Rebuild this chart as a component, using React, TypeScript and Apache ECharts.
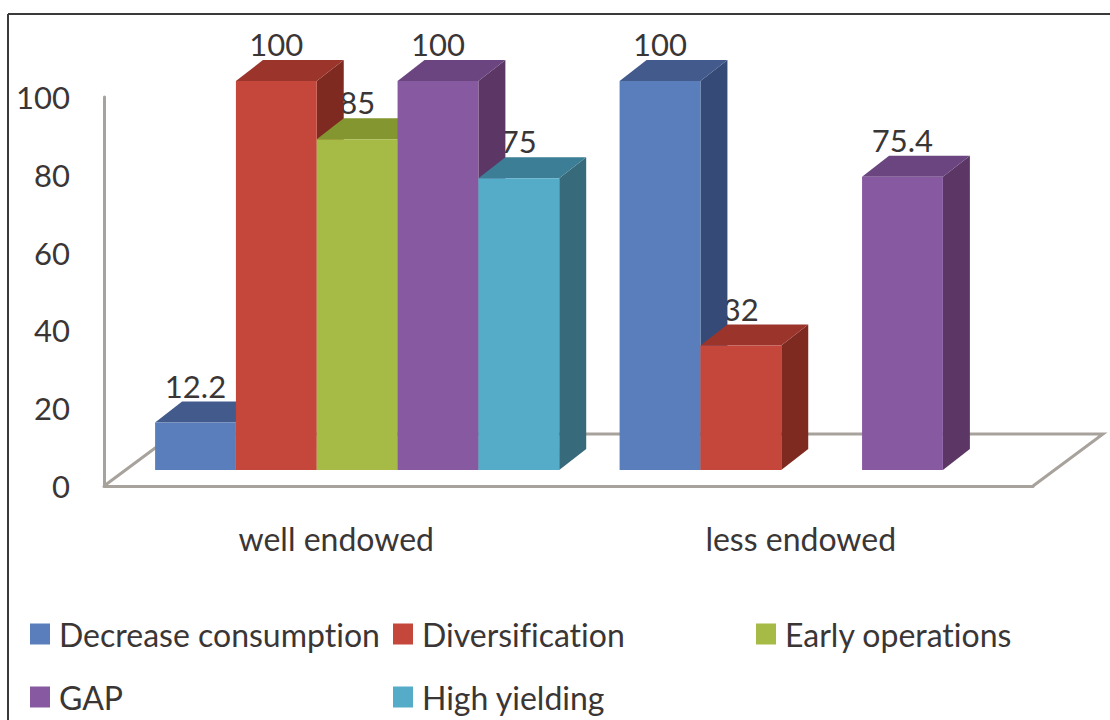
import React, { useEffect, useRef } from "react";
import * as echarts from "echarts";

const categories = ["well endowed", "less endowed"];
const seriesNames = ["Decrease consumption", "Diversification", "Early operations", "GAP", "High yielding"];
const decreaseConsumption = [12.2, 100];
const diversification = [100, 32];
const earlyOperations = [85, null];
const gap = [100, 75.4];
const highYielding = [75, null];
const allValues = [decreaseConsumption, diversification, earlyOperations, gap, highYielding];
const yTicks = [0, 20, 40, 60, 80, 100];

const frontColors = ["#5a7ebc", "#c5473c", "#a6bb45", "#8759a0", "#55acc8"];
const topColors = ["#425a8c", "#9b352b", "#83962f", "#6a4580", "#3b7e96"];
const sideColors = ["#364a78", "#7f2a21", "#6c7c26", "#5c3765", "#376a7a"];

const FONT = "Lato";
const TEXT = "#3b3636";
const LINE = "#a8a29c";
const DX = 27;
const DY = 21;
const LIFT = 16;
const SLOT = 0.174;
const START = 0.39;

function barGeometry(api: any, slot: number) {
  const cat = api.value(0);
  const val = api.value(1);
  const band = api.size([1, 0])[0];
  const cx = api.coord([cat, 0])[0];
  const w = band * SLOT;
  const x = cx - band * START + slot * w;
  const y0 = api.coord([cat, 0])[1] - LIFT;
  const y1 = api.coord([cat, val])[1] - LIFT;
  return { x, w, y0, y1 };
}

function App() {
  const ref = useRef<HTMLDivElement>(null);
  useEffect(() => {
    const chart = echarts.init(ref.current!, undefined, { renderer: "svg" });
    const barSeries = seriesNames.map((name, s) => ({
      type: "custom",
      name,
      z: 5 + s,
      itemStyle: { color: frontColors[s] },
      data: allValues[s].map((v, i) => [i, v]).filter((d) => d[1] !== null),
      renderItem: (_p: any, api: any) => {
        const { x, w, y0, y1 } = barGeometry(api, s);
        return {
          type: "group",
          children: [
            {
              type: "polygon",
              shape: { points: [[x + w, y1], [x + w + DX, y1 - DY], [x + w + DX, y0 - DY], [x + w, y0]] },
              style: { fill: sideColors[s] },
            },
            {
              type: "polygon",
              shape: { points: [[x, y1], [x + DX, y1 - DY], [x + w + DX, y1 - DY], [x + w, y1]] },
              style: { fill: topColors[s] },
            },
            { type: "rect", shape: { x, y: y1, width: w, height: y0 - y1 }, style: { fill: frontColors[s] } },
          ],
        };
      },
    }));
    const labelData: any[] = [];
    allValues.forEach((vals, s) =>
      vals.forEach((v, i) => {
        if (v !== null) labelData.push([i, v, s]);
      })
    );
    const labelSeries = {
      type: "custom",
      name: "labels",
      z: 3,
      data: labelData,
      renderItem: (_p: any, api: any) => {
        const { x, w, y1 } = barGeometry(api, api.value(2));
        return {
          type: "text",
          style: {
            x: x + w / 2,
            y: y1 - 37,
            text: String(api.value(1)),
            fill: TEXT,
            font: `31px ${FONT}`,
            align: "center",
            verticalAlign: "middle",
          },
        };
      },
    };
    const legendPos = [
      [30, 618],
      [393, 618],
      [756, 618],
      [30, 681],
      [393, 681],
    ];
    chart.setOption({
      animation: false,
      backgroundColor: "#ffffff",
      grid: { left: 104, right: 77, top: 97, height: 389, containLabel: false },
      xAxis: {
        type: "category",
        data: categories,
        axisLine: { show: true, lineStyle: { color: LINE, width: 3 } },
        axisTick: { show: false },
        axisLabel: { color: TEXT, fontFamily: FONT, fontSize: 32, margin: 36 },
      },
      yAxis: {
        type: "value",
        min: yTicks[0],
        max: yTicks[yTicks.length - 1],
        interval: 20,
        axisLine: { show: true, lineStyle: { color: LINE, width: 3 } },
        axisTick: { show: false },
        splitLine: { show: false },
        axisLabel: { color: TEXT, fontFamily: FONT, fontSize: 31, margin: 34 },
      },
      legend: seriesNames.map((name, i) => ({
        data: [name],
        left: legendPos[i][0],
        top: legendPos[i][1],
        icon: "rect",
        itemWidth: 20,
        itemHeight: 21,
        itemGap: 0,
        padding: 0,
        selectedMode: false,
        textStyle: { color: TEXT, fontFamily: FONT, fontSize: 32, padding: [0, 0, 0, 4] },
      })),
      graphic: [
        { type: "line", shape: { x1: 8, y1: 14, x2: 1110, y2: 14 }, style: { stroke: "#3a3a3a", lineWidth: 2 } },
        { type: "line", shape: { x1: 8, y1: 14, x2: 8, y2: 720 }, style: { stroke: "#3a3a3a", lineWidth: 2 } },
        {
          type: "polyline",
          shape: { points: [[104, 486], [174, 434], [1103, 434], [1033, 486]] },
          style: { stroke: LINE, lineWidth: 3, fill: "none" },
          z: 0,
        },
      ],
      series: [labelSeries, ...barSeries],
    });
    return () => chart.dispose();
  }, []);
  return (
    <div
      ref={ref}
      style={{ position: "fixed", left: 0, top: 0, width: 1110, height: 720, fontVariantLigatures: "none" }}
    />
  );
}

export default App;
